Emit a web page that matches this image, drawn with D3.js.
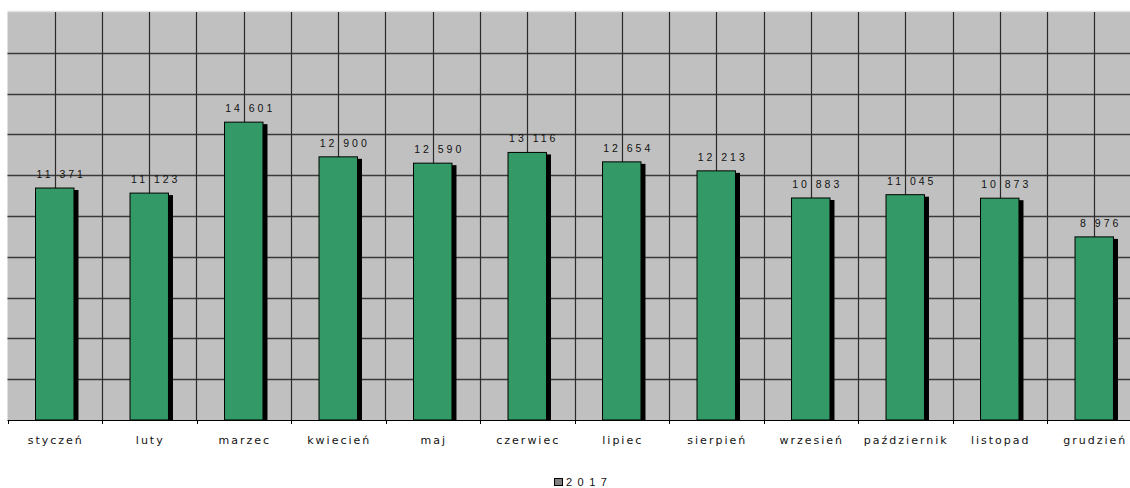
<!DOCTYPE html>
<html><head><meta charset="utf-8">
<script src="https://cdn.jsdelivr.net/npm/d3@7"></script>
<style>body{margin:0;background:#fff;overflow:hidden}svg{display:block}</style>
</head><body>
<script>
const months = ["styczeń","luty","marzec","kwiecień","maj","czerwiec","lipiec","sierpień","wrzesień","październik","listopad","grudzień"];
const values2017 = [11371,11123,14601,12900,12590,13116,12654,12213,10883,11045,10873,8976];
const yTicks = [0,2000,4000,6000,8000,10000,12000,14000,16000,18000,20000];
const seriesName = "2017";

const W = 1130, H = 488;
const pLeft = 7.5, pTop = 12, pBottom = 420, step = 94.5;
const pRight = pLeft + step * months.length;

const svg = d3.select("body").append("svg").attr("width", W).attr("height", H);

const x = d3.scaleBand().domain(months).range([pLeft, pRight]).paddingInner(0.593).paddingOuter(0.593/2);
const y = d3.scaleLinear().domain([0, 20000]).range([pBottom, pTop]);

// plot area
svg.append("rect").attr("x", pLeft).attr("y", pTop).attr("width", pRight - pLeft).attr("height", pBottom - pTop).attr("fill", "#c0c0c0");
svg.append("line").attr("x1", pLeft).attr("x2", W).attr("y1", pTop - 0.5).attr("y2", pTop - 0.5).attr("stroke", "#e2e2e2").attr("stroke-width", 1.5);

// horizontal gridlines
svg.append("g").selectAll("line").data(yTicks.filter(d => d > 0 && d < 20000)).join("line")
  .attr("x1", pLeft).attr("x2", pRight)
  .attr("y1", d => Math.round(y(d)) + 0.5).attr("y2", d => Math.round(y(d)) + 0.5)
  .attr("stroke", "#3a3a3a").attr("stroke-width", 1.3);

// vertical gridlines: category boundaries and centers
const vlines = [];
months.forEach((m) => { vlines.push(x(m) + x.bandwidth()/2 - x.step()/2); vlines.push(x(m) + x.bandwidth()/2); });
svg.append("g").selectAll("line").data(vlines.filter(v => v > pLeft + 1)).join("line")
  .attr("x1", d => Math.round(d) + 0.5).attr("x2", d => Math.round(d) + 0.5)
  .attr("y1", pTop).attr("y2", pBottom)
  .attr("stroke", "#2a2a2a").attr("stroke-width", 1.2);

// shadows
svg.append("g").selectAll("rect").data(values2017).join("rect")
  .attr("x", (d, i) => x(months[i]) + 4.5).attr("y", d => y(d) + 2)
  .attr("width", x.bandwidth()).attr("height", d => pBottom - y(d) - 2)
  .attr("fill", "#000");

// bars
svg.append("g").selectAll("rect").data(values2017).join("rect")
  .attr("x", (d, i) => x(months[i])).attr("y", d => y(d))
  .attr("width", x.bandwidth()).attr("height", d => pBottom - y(d))
  .attr("fill", "#339966").attr("stroke", "#000").attr("stroke-width", 1);

// x axis
const xAxis = d3.axisBottom(x).tickSize(0).tickPadding(16);
const ax = svg.append("g").attr("transform", `translate(0,${pBottom})`).call(xAxis);
ax.select(".domain").remove();
ax.append("line").attr("x1", pLeft).attr("x2", W).attr("y1", 0.5).attr("y2", 0.5).attr("stroke", "#000").attr("stroke-width", 1.2);
ax.selectAll(".bnd").data(d3.range(months.length + 1)).join("line").attr("class", "bnd")
  .attr("x1", i => Math.round(pLeft + i * step) + 0.5).attr("x2", i => Math.round(pLeft + i * step) + 0.5)
  .attr("y1", 0).attr("y2", 4).attr("stroke", "#000");
ax.selectAll(".tick text")
  .attr("font-family", "DejaVu Sans, Verdana, sans-serif").attr("font-size", 11)
  .attr("letter-spacing", "2px").attr("fill", "#111").attr("dx", "1px");

// value labels
const fmt = v => d3.format(",")(v).replace(/,/g, " ");
svg.append("g").selectAll("text").data(values2017).join("text")
  .attr("x", (d, i) => x(months[i]) + x.bandwidth()/2 + 6.5)
  .attr("y", d => y(d) - 10)
  .attr("text-anchor", "middle")
  .attr("font-family", "Liberation Sans, Arial, sans-serif").attr("font-size", 10.5)
  .attr("letter-spacing", "3px").attr("fill", "#111")
  .text(d => fmt(d));

// legend
const lg = svg.append("g").attr("transform", "translate(554,478)");
lg.append("rect").attr("x", 0.5).attr("y", 0.5).attr("width", 8).attr("height", 7).attr("fill", "#808080").attr("stroke", "#000");
lg.append("text").attr("x", 12).attr("y", 7.5)
  .attr("font-family", "Liberation Sans, Arial, sans-serif").attr("font-size", 11)
  .attr("letter-spacing", "5.5px").attr("fill", "#111").text(seriesName);
</script>
</body></html>
